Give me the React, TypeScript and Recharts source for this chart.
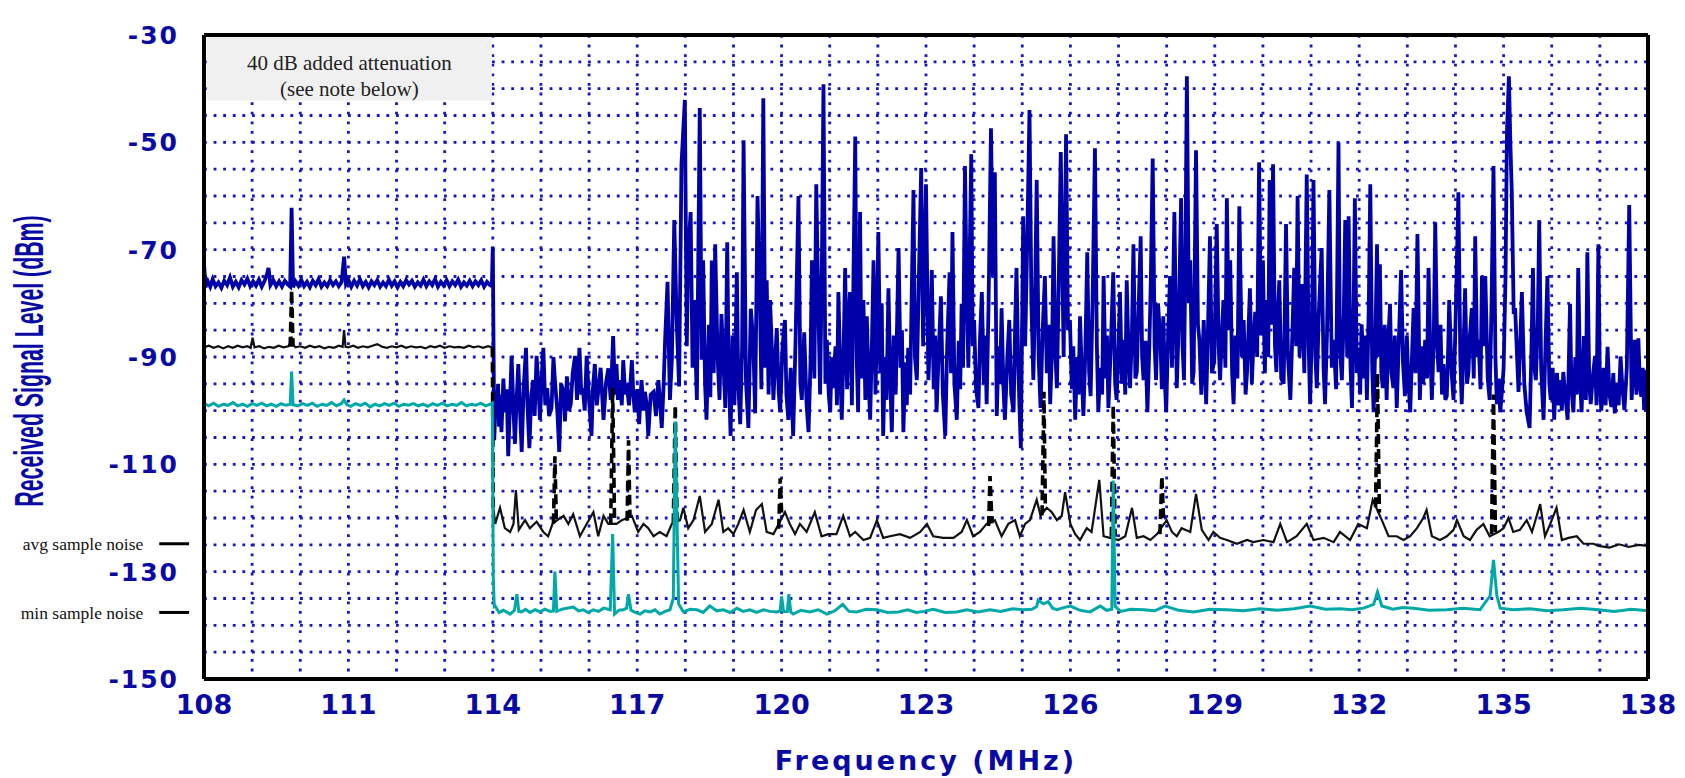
import React from 'react';
import { LineChart, Line, XAxis, YAxis, CartesianGrid, ReferenceArea, ReferenceLine } from 'recharts';

// axis ticks
const FREQ_TICKS = [108, 109, 110, 111, 112, 113, 114, 115, 116, 117, 118, 119, 120, 121, 122, 123, 124, 125, 126, 127, 128, 129, 130, 131, 132, 133, 134, 135, 136, 137, 138];
const LEVEL_TICKS = [-150, -145, -140, -135, -130, -125, -120, -115, -110, -105, -100, -95, -90, -85, -80, -75, -70, -65, -60, -55, -50, -45, -40, -35, -30];
const BAND_MARKS = [108, 117.975, 122.5125, 128.8125, 132.0125, 136, 137, 138];
const BAND_LABELS = ['108', '117.975', '121.9375-123.0875', '128.8125', '132.0125', '136', '137', '138'];

// peak level (blue), [MHz, dBm]
const peakLowBand: [number, number][] = [
  [108.0, -72.5], [108.03, -77.0], [108.08, -75.9], [108.13, -76.9], [108.18, -75.5], [108.24, -76.8], [108.3, -76.1], [108.36, -77.1], [108.42, -75.8], [108.48, -76.6], [108.54, -75.2], [108.6, -76.9], [108.66, -76.0], [108.72, -77.0], [108.78, -75.7], [108.84, -76.5], [108.9, -75.4], [108.96, -76.8], [109.02, -75.9], [109.08, -76.7], [109.14, -75.6], [109.2, -76.9], [109.26, -75.8], [109.31, -74.5], [109.34, -73.4], [109.38, -76.6], [109.44, -75.7], [109.5, -76.8], [109.56, -75.9], [109.62, -76.9], [109.68, -75.8], [109.74, -76.5], [109.79, -76.9], [109.82, -62.2], [109.85, -77.0], [109.9, -75.9], [109.96, -76.7], [110.02, -75.6], [110.08, -76.8], [110.14, -76.0], [110.2, -77.0], [110.26, -75.8], [110.32, -76.6], [110.38, -75.5], [110.44, -76.9], [110.5, -76.1], [110.56, -76.8], [110.62, -75.7], [110.68, -76.6], [110.74, -75.9], [110.8, -76.8], [110.86, -76.0], [110.91, -71.3], [110.95, -76.4], [111.0, -75.6], [111.06, -76.9], [111.12, -75.8], [111.18, -76.7], [111.24, -75.5], [111.3, -76.8], [111.36, -76.0], [111.42, -77.0], [111.48, -75.9], [111.54, -76.6], [111.6, -75.7], [111.66, -76.9], [111.72, -76.1], [111.78, -76.8], [111.84, -75.6], [111.9, -76.7], [111.96, -75.9], [112.02, -77.0], [112.08, -76.0], [112.14, -76.8], [112.2, -75.7], [112.26, -76.5], [112.32, -75.8], [112.38, -76.9], [112.44, -76.1], [112.5, -76.7], [112.56, -75.6], [112.62, -76.8], [112.68, -75.9], [112.74, -76.6], [112.8, -75.5], [112.86, -76.9], [112.92, -76.0], [112.98, -76.7], [113.04, -75.7], [113.1, -76.8], [113.16, -75.9], [113.22, -76.6], [113.28, -75.6], [113.34, -76.9], [113.4, -76.1], [113.46, -76.7], [113.52, -75.8], [113.58, -76.8], [113.64, -75.9], [113.7, -76.6], [113.76, -75.7], [113.82, -76.9], [113.88, -76.0], [113.94, -76.6], [113.98, -76.8], [114.0, -69.5],
];
const peakGapBand: [number, number][] = [
  [114.03, -105.5], [114.06, -98.0], [114.08, -100.3], [114.11, -95.0], [114.13, -103.0], [114.16, -97.0], [114.18, -104.0], [114.22, -94.0], [114.25, -100.3], [114.29, -96.0], [114.32, -108.5], [114.36, -98.0], [114.39, -89.8], [114.43, -100.0], [114.46, -106.2], [114.5, -97.0], [114.53, -91.3], [114.57, -101.0], [114.6, -107.7], [114.64, -96.0], [114.69, -88.3], [114.72, -99.0], [114.76, -107.0], [114.8, -97.0], [114.84, -94.3], [114.87, -101.0], [114.91, -89.8], [114.95, -96.0], [114.98, -101.7], [115.02, -93.0], [115.05, -88.3], [115.09, -99.0], [115.13, -95.8], [115.17, -101.0], [115.22, -99.5], [115.26, -90.0], [115.29, -94.3], [115.34, -100.0], [115.38, -107.7], [115.42, -95.0], [115.47, -96.5], [115.5, -102.0], [115.54, -93.6], [115.58, -100.0], [115.62, -98.8], [115.66, -93.0], [115.71, -89.8], [115.75, -98.0], [115.8, -88.3], [115.84, -97.0], [115.87, -95.8], [115.91, -100.0], [115.95, -89.8], [116.0, -98.0], [116.05, -104.7], [116.08, -96.0], [116.12, -91.3], [116.16, -99.0], [116.19, -96.5], [116.24, -92.0], [116.3, -101.7], [116.35, -95.0], [116.4, -92.1], [116.45, -98.0], [116.5, -86.1], [116.54, -97.0], [116.57, -91.3], [116.6, -98.0], [116.64, -94.3], [116.68, -99.0], [116.71, -90.6], [116.75, -97.0], [116.78, -95.0], [116.83, -99.0], [116.89, -90.6], [116.92, -97.0], [116.95, -100.3], [117.0, -96.0], [117.04, -102.5], [117.09, -94.3], [117.13, -100.0], [117.16, -96.5], [117.2, -99.0], [117.23, -104.7], [117.28, -97.0], [117.34, -96.5], [117.39, -101.0], [117.44, -94.3], [117.48, -99.0], [117.51, -103.2], [117.55, -95.0], [117.58, -86.8], [117.63, -76.0], [117.68, -98.0],
];
const peakAirBandA: [number, number][] = [
  [117.72, -90.5], [117.77, -64.5], [117.82, -83.1], [117.87, -95.5], [117.92, -54.1], [117.99, -42.1], [118.03, -88.0], [118.06, -70.5], [118.11, -63.0], [118.15, -92.0], [118.18, -79.4], [118.24, -98.0], [118.3, -43.6], [118.34, -90.5], [118.37, -72.0], [118.41, -95.0], [118.44, -101.7], [118.49, -84.0], [118.52, -97.5], [118.55, -72.0], [118.59, -93.0], [118.62, -69.0], [118.67, -90.0], [118.71, -98.0], [118.75, -82.0], [118.79, -90.6], [118.83, -99.5], [118.87, -68.6], [118.9, -92.0], [118.94, -104.7], [118.98, -86.0], [119.02, -99.0], [119.07, -74.2], [119.1, -95.0], [119.14, -102.5], [119.18, -88.0], [119.21, -49.6], [119.26, -94.5], [119.31, -103.2], [119.36, -81.0], [119.41, -86.8], [119.45, -100.5], [119.5, -60.0], [119.55, -79.4], [119.58, -96.0], [119.62, -41.8], [119.66, -92.0], [119.69, -75.7], [119.73, -97.0], [119.76, -79.4], [119.8, -89.0], [119.83, -98.0], [119.87, -90.0], [119.9, -84.6], [119.94, -96.5], [119.97, -100.3], [120.02, -88.0], [120.07, -83.1], [120.1, -97.0], [120.14, -101.7], [120.19, -92.0], [120.24, -104.7], [120.29, -87.0], [120.35, -60.0], [120.39, -95.0], [120.42, -98.0], [120.47, -85.4], [120.52, -99.0], [120.56, -104.0], [120.6, -91.0], [120.63, -72.0], [120.68, -94.0], [120.72, -57.8], [120.76, -79.4], [120.8, -97.0], [120.84, -70.0], [120.87, -39.2], [120.91, -95.0], [120.94, -86.8], [120.98, -97.0], [121.01, -100.3], [121.04, -90.0], [121.07, -95.8], [121.12, -88.0], [121.15, -99.0], [121.18, -77.9], [121.22, -93.0], [121.25, -101.7], [121.29, -88.0], [121.32, -73.4], [121.36, -96.0], [121.39, -84.0], [121.42, -77.9], [121.46, -99.0], [121.5, -70.0], [121.53, -48.9], [121.56, -90.0], [121.59, -100.3], [121.63, -63.0], [121.66, -94.0], [121.7, -79.4], [121.74, -98.0], [121.77, -82.4], [121.81, -95.0], [121.84, -101.7], [121.88, -86.0], [121.91, -72.0], [121.95, -97.0], [121.98, -85.0], [122.01, -66.7], [122.05, -93.0], [122.08, -80.0], [122.11, -104.7], [122.15, -90.0], [122.18, -98.0], [122.22, -77.2], [122.26, -95.0], [122.29, -104.0], [122.33, -86.0], [122.37, -97.0],
];
const peakAirBandB: [number, number][] = [
  [122.43, -69.7], [122.47, -92.0], [122.5, -85.0], [122.53, -104.0], [122.57, -91.0], [122.6, -99.0], [122.63, -88.3], [122.67, -97.0], [122.7, -80.0], [122.74, -58.9], [122.77, -90.0], [122.81, -94.3], [122.85, -76.0], [122.9, -54.8], [122.94, -88.0], [122.97, -72.0], [123.0, -57.8], [123.05, -94.3], [123.09, -85.0], [123.12, -73.8], [123.16, -96.0], [123.19, -86.0], [123.22, -100.3], [123.26, -90.0], [123.31, -78.7], [123.35, -97.0], [123.4, -104.7], [123.44, -88.0], [123.49, -74.2], [123.52, -93.0], [123.55, -66.7], [123.59, -95.0], [123.64, -101.7], [123.68, -87.0], [123.71, -96.0], [123.74, -80.1], [123.77, -92.0], [123.81, -54.4], [123.85, -80.0], [123.88, -92.0], [123.91, -70.0], [123.94, -52.2], [123.97, -88.0], [124.0, -83.1], [124.04, -96.0], [124.09, -99.5], [124.12, -87.0], [124.16, -77.9], [124.2, -95.0], [124.23, -86.0], [124.26, -98.8], [124.3, -80.0], [124.35, -47.4], [124.39, -75.0], [124.43, -55.6], [124.47, -101.0], [124.51, -88.0], [124.54, -95.0], [124.57, -80.9], [124.61, -96.0], [124.64, -101.7], [124.69, -90.0], [124.73, -83.1], [124.77, -97.0], [124.82, -100.3], [124.85, -85.0], [124.88, -73.4], [124.92, -93.0], [124.97, -107.0], [125.02, -63.8], [125.06, -88.0], [125.1, -70.0], [125.15, -44.0], [125.19, -80.0], [125.23, -94.3], [125.26, -82.0], [125.3, -57.0], [125.34, -90.0], [125.38, -99.5], [125.42, -86.0], [125.47, -74.9], [125.51, -93.0], [125.55, -84.0], [125.58, -98.8], [125.62, -88.0], [125.65, -67.5], [125.69, -90.0], [125.72, -95.8], [125.76, -75.0], [125.8, -51.8], [125.86, -90.0], [125.91, -48.5], [125.95, -85.0], [125.99, -83.1], [126.03, -96.0], [126.06, -88.0], [126.1, -101.7], [126.14, -90.0], [126.17, -97.0], [126.2, -82.4], [126.24, -94.0], [126.27, -101.0], [126.31, -89.0], [126.35, -70.5], [126.39, -93.0], [126.42, -97.3], [126.46, -80.0], [126.51, -51.1], [126.55, -88.0], [126.58, -100.3], [126.62, -92.0], [126.66, -97.0], [126.69, -74.9], [126.73, -94.0], [126.76, -86.0], [126.79, -99.5], [126.84, -88.0], [126.89, -74.2], [126.93, -95.0],
];
const peakAirBandC: [number, number][] = [
  [126.96, -98.0], [127.0, -88.0], [127.03, -77.9], [127.07, -95.0], [127.1, -86.8], [127.14, -97.0], [127.17, -75.7], [127.21, -90.0], [127.24, -95.8], [127.28, -85.0], [127.31, -69.0], [127.35, -94.0], [127.38, -92.8], [127.42, -80.0], [127.46, -67.5], [127.49, -90.0], [127.52, -94.3], [127.56, -87.0], [127.6, -100.3], [127.64, -88.0], [127.67, -76.0], [127.71, -53.0], [127.75, -88.0], [127.78, -94.3], [127.82, -80.0], [127.87, -86.8], [127.9, -96.0], [127.93, -82.4], [127.96, -94.0], [127.99, -100.3], [128.03, -86.0], [128.07, -74.9], [128.11, -92.0], [128.16, -63.0], [128.21, -95.8], [128.25, -84.0], [128.3, -60.4], [128.33, -88.0], [128.36, -94.3], [128.39, -70.0], [128.42, -37.7], [128.46, -80.0], [128.49, -72.0], [128.53, -95.0], [128.56, -92.8], [128.61, -51.5], [128.65, -84.0], [128.68, -86.8], [128.72, -97.0], [128.77, -83.1], [128.82, -98.8], [128.86, -84.0], [128.9, -67.5], [128.94, -93.0], [128.99, -90.6], [129.04, -65.2], [129.08, -88.0], [129.11, -94.3], [129.15, -85.0], [129.18, -79.4], [129.22, -92.0], [129.25, -60.4], [129.29, -85.0], [129.32, -72.0], [129.36, -93.0], [129.39, -98.8], [129.43, -86.0], [129.47, -94.0], [129.51, -61.9], [129.56, -90.0], [129.6, -83.1], [129.64, -97.0], [129.67, -92.8], [129.7, -85.0], [129.73, -77.2], [129.77, -95.0], [129.8, -88.0], [129.84, -81.6], [129.88, -90.0], [129.92, -53.7], [129.96, -86.0], [130.0, -72.0], [130.04, -93.0], [130.07, -79.4], [130.11, -90.0], [130.14, -57.0], [130.18, -84.0], [130.21, -54.1], [130.25, -88.0], [130.28, -92.8], [130.31, -82.0], [130.34, -75.7], [130.38, -94.0], [130.43, -95.0], [130.45, -84.0], [130.48, -65.2], [130.52, -90.0], [130.57, -98.0], [130.61, -86.0], [130.65, -73.4], [130.69, -88.0], [130.72, -60.0], [130.76, -90.0], [130.81, -76.4], [130.86, -93.0], [130.91, -56.0], [130.95, -88.0], [130.98, -98.8], [131.02, -84.0], [131.05, -57.0], [131.09, -90.0], [131.12, -95.8], [131.16, -82.0], [131.22, -69.7], [131.26, -92.0], [131.29, -98.8], [131.33, -86.0], [131.38, -58.9], [131.43, -92.0], [131.47, -86.8], [131.52, -96.0], [131.57, -50.0], [131.6, -88.0],
];
const peakAirBandD: [number, number][] = [
  [131.64, -94.3], [131.68, -82.0], [131.71, -64.5], [131.75, -90.0], [131.78, -63.8], [131.82, -92.0], [131.85, -99.5], [131.88, -85.0], [131.91, -60.4], [131.95, -93.0], [131.98, -88.3], [132.02, -97.0], [132.05, -83.9], [132.1, -94.0], [132.13, -86.0], [132.16, -98.0], [132.2, -80.0], [132.23, -57.8], [132.27, -92.0], [132.3, -100.3], [132.34, -85.0], [132.37, -69.0], [132.4, -90.0], [132.43, -72.7], [132.46, -93.0], [132.49, -95.8], [132.53, -84.0], [132.57, -98.0], [132.6, -88.0], [132.64, -80.1], [132.67, -93.0], [132.71, -95.8], [132.74, -86.0], [132.78, -99.5], [132.82, -88.0], [132.87, -73.8], [132.91, -91.0], [132.95, -97.3], [132.99, -86.0], [133.02, -94.0], [133.06, -100.3], [133.1, -89.0], [133.13, -80.9], [133.17, -93.0], [133.21, -67.1], [133.26, -98.0], [133.3, -88.0], [133.33, -95.0], [133.37, -86.8], [133.41, -94.0], [133.44, -73.4], [133.48, -90.0], [133.51, -98.0], [133.55, -86.0], [133.58, -64.9], [133.62, -88.0], [133.65, -92.8], [133.69, -84.0], [133.72, -97.0], [133.75, -91.3], [133.79, -98.0], [133.82, -97.3], [133.85, -88.0], [133.87, -79.4], [133.92, -93.0], [133.96, -98.0], [134.0, -84.0], [134.03, -72.0], [134.06, -59.3], [134.1, -90.0], [134.13, -98.8], [134.17, -88.0], [134.2, -77.2], [134.24, -95.0], [134.27, -92.8], [134.3, -86.0], [134.34, -80.9], [134.38, -94.0], [134.41, -67.5], [134.45, -90.0], [134.48, -86.8], [134.52, -96.0], [134.55, -74.9], [134.59, -88.0], [134.62, -74.9], [134.67, -94.0], [134.71, -98.0], [134.75, -80.0], [134.79, -54.4], [134.83, -90.0], [134.86, -98.8], [134.9, -94.0], [134.93, -100.3], [134.97, -96.0], [135.0, -92.1], [135.04, -75.0], [135.07, -48.1], [135.11, -37.7], [135.14, -50.0], [135.17, -59.3], [135.21, -82.0], [135.24, -80.9], [135.28, -90.0], [135.31, -96.5], [135.35, -86.0], [135.38, -77.9], [135.43, -95.0], [135.48, -100.3], [135.54, -103.2], [135.58, -88.0], [135.61, -73.4], [135.64, -92.0], [135.67, -94.3], [135.71, -84.0], [135.74, -64.5], [135.78, -92.0], [135.83, -101.7], [135.87, -88.0], [135.91, -74.9], [135.95, -95.0], [135.98, -98.0], [136.02, -92.0], [136.05, -101.7], [136.08, -95.0], [136.11, -93.0], [136.14, -99.0], [136.17, -94.3], [136.21, -100.0], [136.24, -92.8], [136.28, -97.0], [136.33, -101.7], [136.38, -80.1], [136.41, -96.0], [136.45, -100.3], [136.49, -90.0], [136.52, -97.0], [136.55, -73.4], [136.59, -94.0], [136.62, -100.3], [136.67, -86.1], [136.71, -98.0], [136.74, -70.5], [136.78, -95.0], [136.81, -98.8], [136.86, -93.0], [136.9, -89.8], [136.93, -99.0], [136.97, -69.0], [137.0, -95.0], [137.03, -100.0], [137.08, -92.0], [137.12, -99.0], [137.16, -88.1], [137.2, -97.0], [137.24, -99.3], [137.28, -93.0], [137.31, -100.5], [137.35, -94.9], [137.39, -99.0], [137.43, -89.9], [137.47, -96.0], [137.51, -99.9], [137.56, -92.0], [137.61, -61.7], [137.66, -98.0], [137.69, -93.0], [137.72, -86.8], [137.76, -97.0], [137.8, -86.5], [137.83, -95.0], [137.86, -97.4], [137.89, -92.0], [137.92, -99.9], [137.97, -92.4], [138.0, -97.0],
];

// average sample noise (black)
const avgLowBand: [number, number][] = [
  [108.0, -88.2], [108.1, -87.9], [108.2, -88.3], [108.3, -88.0], [108.4, -88.4], [108.5, -88.0], [108.6, -88.3], [108.7, -87.9], [108.8, -88.2], [108.9, -88.0], [108.97, -88.3], [109.01, -86.4], [109.05, -88.2], [109.15, -88.0], [109.25, -88.4], [109.35, -88.1], [109.45, -88.3], [109.55, -87.9], [109.65, -88.2], [109.75, -88.0], [109.8, -87.2], [109.82, -86.2], [109.84, -87.5], [109.9, -88.2], [110.0, -88.0], [110.1, -88.3], [110.2, -87.9], [110.3, -88.2], [110.4, -88.0], [110.5, -88.4], [110.6, -88.1], [110.7, -88.3], [110.8, -87.9], [110.88, -88.1], [110.91, -85.0], [110.94, -88.1], [111.0, -88.2], [111.1, -87.9], [111.2, -88.3], [111.3, -88.0], [111.4, -88.2], [111.5, -87.9], [111.6, -87.6], [111.7, -88.1], [111.8, -88.3], [111.9, -88.0], [112.0, -88.2], [112.1, -87.9], [112.2, -88.3], [112.3, -88.0], [112.4, -88.2], [112.5, -88.1], [112.6, -88.4], [112.7, -88.0], [112.8, -88.2], [112.9, -87.9], [113.0, -88.3], [113.1, -88.0], [113.2, -88.2], [113.3, -88.1], [113.4, -88.3], [113.5, -87.9], [113.6, -88.2], [113.7, -88.0], [113.8, -88.3], [113.9, -88.0], [113.99, -88.2],
];
const avgHighBand: [number, number][] = [
  [114.01, -118.1], [114.05, -121.1], [114.15, -118.1], [114.25, -121.9], [114.36, -122.6], [114.43, -121.1], [114.48, -114.8], [114.54, -122.2], [114.67, -120.4], [114.77, -121.9], [114.91, -120.7], [115.05, -122.6], [115.15, -123.4], [115.24, -121.1], [115.34, -120.4], [115.47, -119.6], [115.57, -121.1], [115.67, -119.3], [115.81, -123.4], [115.95, -121.1], [116.09, -118.9], [116.19, -123.4], [116.3, -119.6], [116.4, -121.1], [116.57, -121.1], [116.68, -120.4], [116.89, -119.6], [117.02, -122.6], [117.13, -121.1], [117.23, -121.9], [117.34, -123.4], [117.47, -122.6], [117.61, -123.4], [117.72, -121.1],
  [117.89, -120.4], [117.96, -118.1], [118.06, -121.9], [118.17, -120.4], [118.3, -115.9], [118.41, -122.6], [118.55, -121.1], [118.69, -116.6], [118.79, -122.6], [118.89, -121.9], [119.0, -123.0], [119.1, -121.1], [119.21, -118.5], [119.34, -122.6], [119.47, -118.5], [119.59, -117.4], [119.69, -122.6], [119.83, -123.0], [120.07, -118.9], [120.17, -121.1], [120.28, -123.0], [120.38, -121.1], [120.52, -122.6], [120.69, -118.9], [120.83, -123.4], [120.97, -123.0], [121.14, -123.0], [121.28, -119.6], [121.42, -123.4], [121.53, -122.6], [121.7, -124.1], [121.84, -123.7], [121.98, -120.4], [122.11, -123.7], [122.25, -123.4],
  [122.46, -123.0], [122.67, -123.7], [122.88, -122.6], [123.02, -121.1], [123.15, -123.4], [123.36, -123.7], [123.57, -123.7], [123.74, -122.6], [123.85, -120.4], [123.98, -123.4], [124.12, -122.6], [124.26, -121.1], [124.43, -120.4], [124.57, -123.4], [124.71, -121.1], [124.85, -120.4], [124.95, -123.4], [125.06, -121.1], [125.16, -120.4], [125.3, -116.6], [125.38, -119.6], [125.51, -118.1], [125.61, -118.9], [125.72, -120.4], [125.82, -119.6], [125.89, -115.2], [126.0, -121.1], [126.1, -123.0], [126.2, -124.1], [126.34, -121.9], [126.44, -122.6], [126.6, -112.9], [126.69, -123.4], [126.82, -123.7],
  [127.0, -124.1], [127.14, -123.4], [127.28, -118.1], [127.38, -123.7], [127.52, -123.4], [127.66, -124.1], [127.8, -123.0], [128.0, -120.4], [128.11, -122.6], [128.21, -123.4], [128.31, -121.9], [128.49, -122.6], [128.61, -115.5], [128.73, -122.2], [128.87, -124.1], [128.97, -122.6], [129.11, -123.7], [129.25, -124.1], [129.46, -124.8], [129.67, -124.1], [129.8, -124.5], [130.01, -124.1], [130.22, -124.5], [130.36, -121.1], [130.5, -124.5], [130.7, -123.4], [130.91, -121.1], [131.05, -124.1], [131.26, -123.7], [131.47, -124.5],
  [131.6, -122.6], [131.81, -124.1], [131.98, -121.1], [132.16, -121.9], [132.28, -116.6], [132.47, -120.4], [132.61, -123.4], [132.78, -123.4], [132.92, -124.1], [133.06, -123.4], [133.2, -121.9], [133.33, -120.0], [133.4, -118.5], [133.51, -123.4], [133.68, -124.1], [133.82, -123.4], [133.96, -122.2], [134.03, -120.4], [134.17, -123.4], [134.3, -124.1], [134.44, -122.2], [134.58, -121.1], [134.71, -123.4], [134.89, -122.6], [135.0, -121.9], [135.1, -120.0], [135.2, -122.6], [135.34, -122.2], [135.48, -120.4], [135.59, -122.6], [135.76, -117.4], [135.86, -123.4], [135.97, -121.1], [136.1, -118.1], [136.21, -124.1], [136.35, -123.7], [136.52, -123.4], [136.66, -124.8], [136.87, -124.8], [136.97, -125.2], [137.2, -125.5], [137.4, -124.9], [137.6, -125.4], [137.8, -125.0], [138.0, -125.2],
];
// tall average-noise spikes, drawn dashed
const avgSpikes: [number, number][][] = [
  [[109.79, -88.1], [109.82, -77.5], [109.85, -88.1]],
  [[113.99, -88.2], [114.01, -118.1]],
  [[115.26, -121.0], [115.29, -108.5], [115.32, -120.5]],
  [[116.45, -121.0], [116.49, -95.8], [116.53, -121.0]],
  [[116.79, -120.5], [116.82, -105.5], [116.85, -120.0]],
  [[117.75, -121.0], [117.79, -99.0], [117.83, -120.5]],
  [[119.94, -122.0], [119.97, -112.6], [120.0, -119.0]],
  [[124.3, -121.5], [124.33, -112.2], [124.37, -121.0]],
  [[125.41, -119.5], [125.45, -96.5], [125.48, -118.5]],
  [[126.85, -123.5], [126.89, -99.0], [126.93, -123.5]],
  [[127.86, -123.0], [127.9, -112.2], [127.94, -121.0]],
  [[132.34, -118.0], [132.38, -93.0], [132.42, -119.0]],
  [[134.75, -123.0], [134.79, -97.0], [134.83, -122.6]],
];

// minimum sample noise (teal)
const minLowBand: [number, number][] = [
  [108.0, -98.7], [108.1, -99.1], [108.2, -98.6], [108.3, -99.2], [108.4, -98.8], [108.5, -99.0], [108.6, -98.5], [108.7, -99.1], [108.8, -98.8], [108.9, -99.2], [109.0, -98.7], [109.1, -99.0], [109.2, -98.6], [109.3, -99.1], [109.4, -98.8], [109.5, -99.2], [109.6, -98.7], [109.7, -99.0], [109.79, -98.8], [109.82, -92.7], [109.85, -98.9], [109.95, -99.1], [110.05, -98.7], [110.15, -99.0], [110.25, -98.6], [110.35, -99.2], [110.45, -98.8], [110.55, -99.0], [110.65, -98.5], [110.75, -99.1], [110.85, -98.7], [110.91, -98.0], [110.97, -98.9], [111.05, -99.2], [111.15, -98.7], [111.25, -99.0], [111.35, -98.6], [111.45, -99.3], [111.55, -98.8], [111.65, -99.1], [111.75, -98.7], [111.85, -99.0], [111.95, -98.6], [112.05, -99.2], [112.15, -98.8], [112.25, -99.0], [112.35, -98.7], [112.45, -99.1], [112.55, -98.8], [112.65, -99.2], [112.75, -98.7], [112.85, -99.0], [112.95, -98.6], [113.05, -99.1], [113.15, -98.8], [113.25, -99.0], [113.35, -98.5], [113.45, -99.1], [113.55, -98.8], [113.65, -99.0], [113.75, -98.6], [113.85, -99.1], [113.95, -98.8], [113.99, -98.6],
];
const minHighBand: [number, number][] = [
  [114.01, -131.0], [114.03, -136.5], [114.05, -136.4], [114.13, -137.6], [114.22, -137.2], [114.36, -137.9], [114.45, -137.2], [114.5, -134.2], [114.54, -137.4], [114.6, -137.5], [114.68, -137.0], [114.77, -137.6], [114.88, -137.1], [114.98, -137.5], [115.08, -137.0], [115.19, -137.4], [115.26, -137.3], [115.29, -130.0], [115.33, -137.4], [115.44, -137.0], [115.54, -136.8], [115.67, -136.6], [115.78, -137.3], [115.88, -137.1], [115.98, -137.6], [116.09, -137.1], [116.2, -137.4], [116.3, -136.8], [116.44, -137.1], [116.49, -123.0], [116.53, -137.9], [116.62, -137.2], [116.71, -137.1], [116.78, -136.8], [116.82, -134.2], [116.87, -137.2], [116.96, -137.6], [117.06, -137.9], [117.16, -137.3], [117.27, -137.5], [117.37, -137.1], [117.47, -137.9], [117.58, -137.4], [117.68, -137.1], [117.75, -135.0], [117.79, -102.0], [117.86, -136.0],
  [117.96, -137.5], [118.1, -137.0], [118.24, -137.1], [118.37, -137.6], [118.51, -136.4], [118.65, -137.3], [118.79, -137.1], [118.93, -137.6], [119.07, -136.8], [119.2, -137.4], [119.34, -137.1], [119.48, -137.6], [119.62, -137.1], [119.76, -137.4], [119.9, -137.5], [119.97, -137.3], [120.0, -134.6], [120.04, -137.4], [120.12, -137.4], [120.15, -134.2], [120.19, -137.5], [120.24, -137.9], [120.4, -137.2], [120.59, -137.5], [120.76, -137.1], [120.94, -137.9], [121.1, -137.3], [121.27, -136.1], [121.4, -137.4], [121.56, -137.5], [121.76, -137.0], [121.98, -137.1], [122.2, -137.6], [122.43, -137.5],
  [122.62, -137.1], [122.8, -137.6], [122.95, -137.4], [123.15, -137.0], [123.4, -137.6], [123.64, -137.5], [123.85, -137.1], [124.08, -137.5], [124.33, -137.1], [124.55, -137.4], [124.8, -136.9], [125.02, -137.1], [125.2, -137.0], [125.3, -136.5], [125.33, -135.3], [125.44, -136.0], [125.54, -135.6], [125.63, -136.8], [125.72, -137.1], [125.86, -136.7], [126.0, -136.4], [126.2, -137.2], [126.41, -137.5], [126.62, -136.4], [126.75, -137.2], [126.86, -137.0], [126.89, -113.0], [126.93, -136.5],
  [127.05, -137.4], [127.25, -137.0], [127.52, -137.1], [127.75, -137.3], [127.97, -136.4], [128.25, -137.2], [128.56, -137.5], [128.9, -137.0], [129.25, -137.1], [129.6, -137.3], [129.94, -136.9], [130.3, -137.2], [130.65, -136.9], [130.98, -136.4], [131.3, -137.0], [131.6, -136.9],
  [131.85, -137.1], [132.09, -136.8], [132.3, -136.1], [132.38, -133.8], [132.47, -136.4], [132.7, -137.0], [132.9, -136.7], [133.13, -136.8], [133.45, -137.2], [133.82, -137.1], [134.15, -136.8], [134.51, -137.1], [134.72, -134.5], [134.79, -127.8], [134.86, -134.5], [134.93, -136.8], [135.2, -137.1], [135.55, -136.9], [135.9, -137.3], [136.24, -137.1], [136.6, -136.8], [136.97, -137.1], [137.3, -137.4], [137.65, -137.0], [138.0, -137.3],
];

const NOISE_MARKS = [
  { level: -124.8, name: 'avg sample noise' },
  { level: -137.6, name: 'min sample noise' },
];

const toRows = (pts: [number, number][]) => pts.map(([f, v]) => ({ f, v }));
const gap = (f: number) => ({ f, v: null as number | null });

const peakRows = toRows([...peakLowBand, ...peakGapBand, ...peakAirBandA, ...peakAirBandB, ...peakAirBandC, ...peakAirBandD]);
const avgRows = [...toRows(avgLowBand), gap(114), ...toRows(avgHighBand)];
const spikeRows = avgSpikes.flatMap((s) => [...toRows(s), gap(s[s.length - 1][0] + 0.002)]);
const minRows = toRows([...minLowBand, ...minHighBand]);

const AXIS_BLUE = '#0909a6';
const GRID_BLUE = '#1616c4';
const SERIF = '"Liberation Serif", "Times New Roman", serif';

function YTitle() {
  // condensed bold title, squeezed horizontally before rotating
  return (
    <text
      transform="translate(43, 361) rotate(-90) scale(0.52, 1)"
      textAnchor="middle"
      fontFamily='"Liberation Sans", Arial, sans-serif'
      fontWeight="bold"
      fontSize={41}
      fill={AXIS_BLUE}
    >
      Received Signal Level (dBm)
    </text>
  );
}

function BoxNote(props: any) {
  const vb = props.viewBox || { x: 207, y: 35, width: 285 };
  const cx = vb.x + vb.width / 2;
  return (
    <g fontFamily={SERIF} fontSize={21} fill="#222" textAnchor="middle">
      <text x={cx} y={vb.y + 35}>40 dB added attenuation</text>
      <text x={cx} y={vb.y + 61}>(see note below)</text>
    </g>
  );
}

export default function App() {
  const bandLabel = (v: number) => {
    const i = BAND_MARKS.indexOf(v);
    return i >= 0 ? BAND_LABELS[i] : '';
  };

  return (
    <div style={{ position: 'absolute', left: 0, top: 0, width: 1685, height: 778, background: '#fff' }}>
      <LineChart width={1685} height={778} margin={{ top: 0, right: 37, bottom: 0, left: 0 }}>
        <CartesianGrid stroke={GRID_BLUE} strokeWidth={2.8} strokeDasharray="2.8 6.8" />
        <XAxis
          dataKey="f"
          type="number"
          domain={[108, 138]}
          ticks={FREQ_TICKS}
          interval={0}
          tickFormatter={(v: number) => ((v - 108) % 3 === 0 ? String(v) : '')}
          height={99}
          tickSize={0}
          tickMargin={16}
          axisLine={{ stroke: '#000', strokeWidth: 4 }}
          tick={{ fill: AXIS_BLUE, fontFamily: '"DejaVu Sans", sans-serif', fontWeight: 'bold', fontSize: 27 }}
          label={{
            value: 'Frequency (MHz)',
            position: 'insideBottom',
            offset: 8,
            fill: AXIS_BLUE,
            fontFamily: '"DejaVu Sans", sans-serif',
            fontWeight: 'bold',
            fontSize: 27,
            letterSpacing: 3,
          }}
        />
        <XAxis
          xAxisId="top"
          orientation="top"
          type="number"
          domain={[108, 138]}
          ticks={BAND_MARKS}
          interval={0}
          tickFormatter={bandLabel}
          height={35}
          tickSize={0}
          tickMargin={13}
          axisLine={{ stroke: '#000', strokeWidth: 4 }}
          tick={{ fill: '#111', fontFamily: SERIF, fontSize: 17.5 }}
        />
        <YAxis
          type="number"
          domain={[-150, -30]}
          ticks={LEVEL_TICKS}
          interval={0}
          tickFormatter={(v: number) => ((v + 30) % 20 === 0 ? String(v) : '')}
          width={204}
          tickSize={0}
          tickMargin={25}
          axisLine={{ stroke: '#000', strokeWidth: 4 }}
          tick={{ fill: AXIS_BLUE, fontFamily: '"DejaVu Sans", sans-serif', fontWeight: 'bold', fontSize: 25, letterSpacing: 2 }}
          label={<YTitle />}
        />

        <ReferenceArea x1={108.06} x2={113.98} y1={-42.2} y2={-30} fill="#f0f0f0" fillOpacity={1} stroke="none" label={<BoxNote />} />

        <Line data={peakRows} dataKey="v" stroke="#0000a8" strokeWidth={3.8} dot={false} activeDot={false} isAnimationActive={false} />
        <Line data={avgRows} dataKey="v" stroke="#111" strokeWidth={2.2} dot={false} activeDot={false} connectNulls={false} isAnimationActive={false} />
        <Line data={spikeRows} dataKey="v" stroke="#000" strokeWidth={3.6} strokeDasharray="10 5" dot={false} activeDot={false} connectNulls={false} isAnimationActive={false} />
        <Line data={minRows} dataKey="v" stroke="#00a8a8" strokeWidth={3} dot={false} activeDot={false} isAnimationActive={false} />

        <ReferenceLine x={138} stroke="#000" strokeWidth={4} />
        {NOISE_MARKS.map((m) => (
          <ReferenceLine
            key={m.name}
            segment={[{ x: 107.07, y: m.level }, { x: 107.69, y: m.level }]}
            ifOverflow="visible"
            stroke="#000"
            strokeWidth={3}
            label={{ value: m.name, position: 'left', offset: 16, fill: '#111', fontFamily: SERIF, fontSize: 17.5 }}
          />
        ))}
      </LineChart>
    </div>
  );
}
